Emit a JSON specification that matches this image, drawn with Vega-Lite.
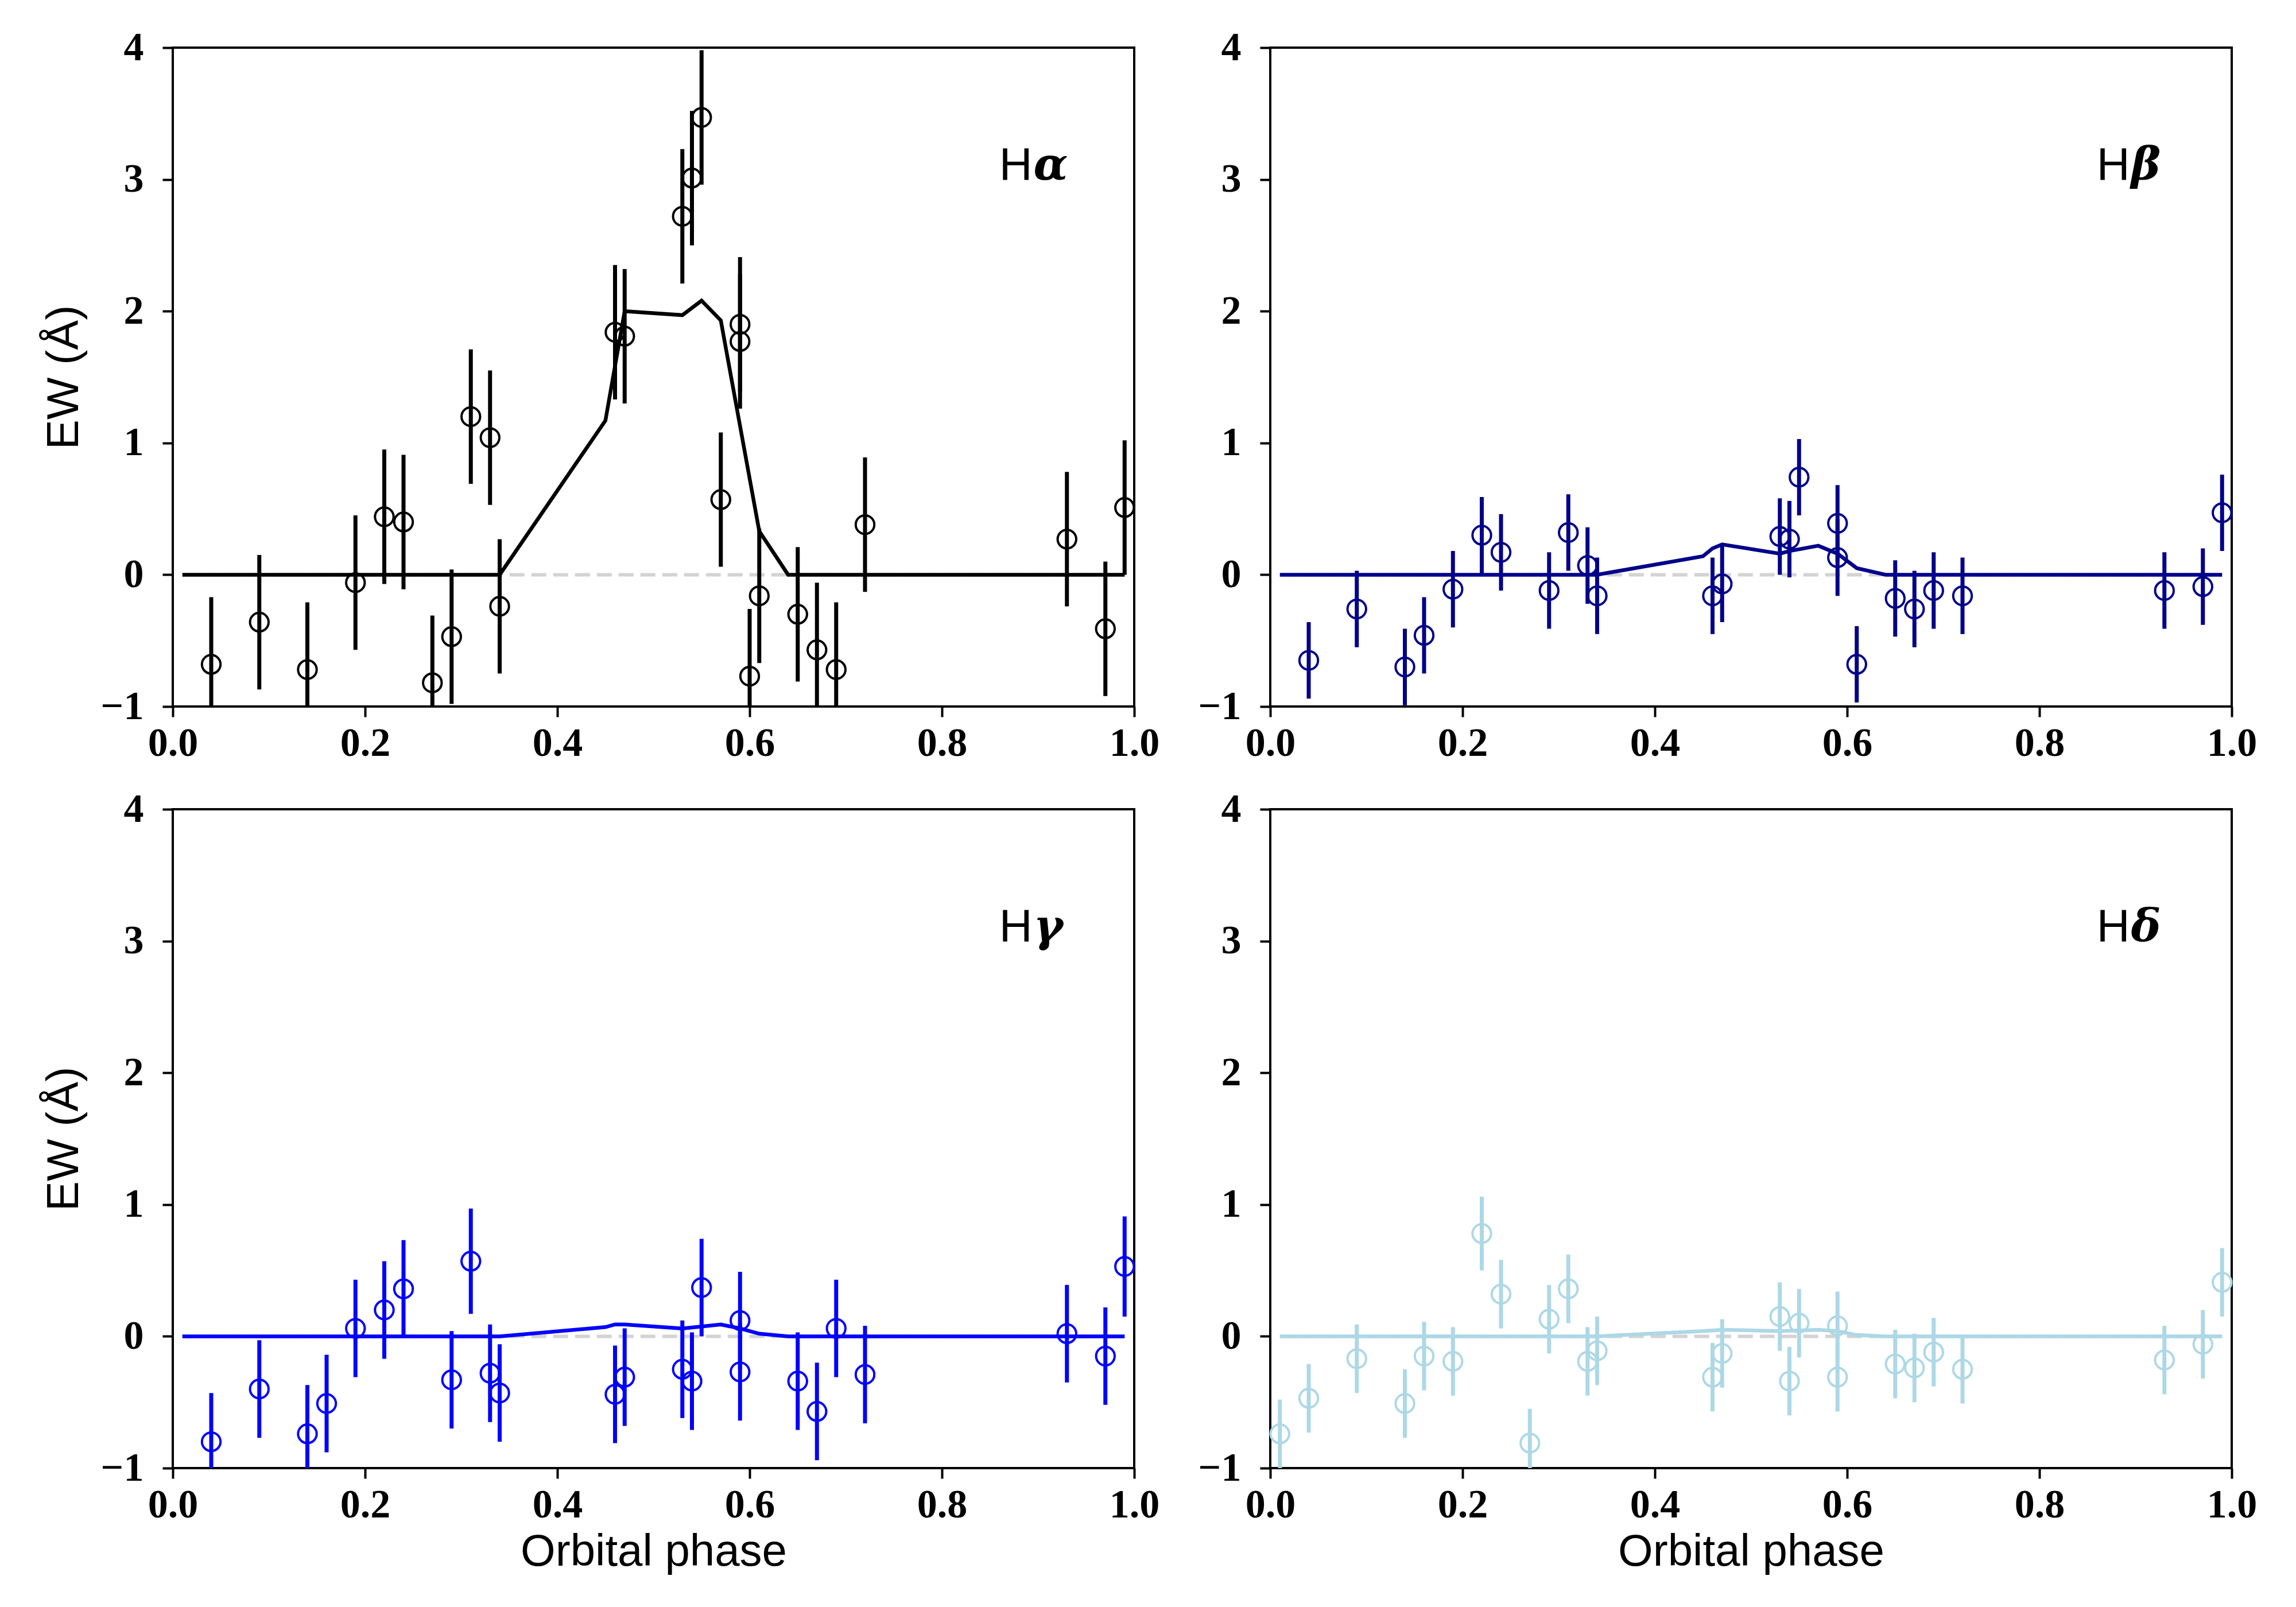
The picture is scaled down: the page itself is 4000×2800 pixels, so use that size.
{
"$schema": "https://vega.github.io/schema/vega-lite/v6.json",
"autosize": {"type": "pad"},
"padding": {"left": 71, "top": 46, "right": 20, "bottom": 20},
"background": "white",
"bounds": "flush",
"columns": 2,
"spacing": {"column": 237, "row": 179},
"datasets": {
"points": [
{"line":"Ha","phase":0.04,"ew":-0.68,"err":0.51},{"line":"Ha","phase":0.09,"ew":-0.36,"err":0.51},{"line":"Ha","phase":0.14,"ew":-0.72,"err":0.51},{"line":"Ha","phase":0.19,"ew":-0.06,"err":0.51},{"line":"Ha","phase":0.22,"ew":0.44,"err":0.51},{"line":"Ha","phase":0.24,"ew":0.40,"err":0.51},{"line":"Ha","phase":0.27,"ew":-0.82,"err":0.51},{"line":"Ha","phase":0.29,"ew":-0.47,"err":0.51},{"line":"Ha","phase":0.31,"ew":1.20,"err":0.51},{"line":"Ha","phase":0.33,"ew":1.04,"err":0.51},{"line":"Ha","phase":0.34,"ew":-0.24,"err":0.51},{"line":"Ha","phase":0.46,"ew":1.84,"err":0.51},{"line":"Ha","phase":0.47,"ew":1.81,"err":0.51},{"line":"Ha","phase":0.53,"ew":2.72,"err":0.51},{"line":"Ha","phase":0.54,"ew":3.01,"err":0.51},{"line":"Ha","phase":0.55,"ew":3.47,"err":0.51},{"line":"Ha","phase":0.57,"ew":0.57,"err":0.51},{"line":"Ha","phase":0.59,"ew":1.90,"err":0.51},{"line":"Ha","phase":0.59,"ew":1.77,"err":0.51},{"line":"Ha","phase":0.60,"ew":-0.77,"err":0.51},{"line":"Ha","phase":0.61,"ew":-0.16,"err":0.51},{"line":"Ha","phase":0.65,"ew":-0.30,"err":0.51},{"line":"Ha","phase":0.67,"ew":-0.57,"err":0.51},{"line":"Ha","phase":0.69,"ew":-0.72,"err":0.51},{"line":"Ha","phase":0.72,"ew":0.38,"err":0.51},{"line":"Ha","phase":0.93,"ew":0.27,"err":0.51},{"line":"Ha","phase":0.97,"ew":-0.41,"err":0.51},{"line":"Ha","phase":0.99,"ew":0.51,"err":0.51},
{"line":"Hb","phase":0.04,"ew":-0.65,"err":0.29},{"line":"Hb","phase":0.09,"ew":-0.26,"err":0.29},{"line":"Hb","phase":0.14,"ew":-0.70,"err":0.29},{"line":"Hb","phase":0.16,"ew":-0.46,"err":0.29},{"line":"Hb","phase":0.19,"ew":-0.11,"err":0.29},{"line":"Hb","phase":0.22,"ew":0.30,"err":0.29},{"line":"Hb","phase":0.24,"ew":0.17,"err":0.29},{"line":"Hb","phase":0.29,"ew":-0.12,"err":0.29},{"line":"Hb","phase":0.31,"ew":0.32,"err":0.29},{"line":"Hb","phase":0.33,"ew":0.07,"err":0.29},{"line":"Hb","phase":0.34,"ew":-0.16,"err":0.29},{"line":"Hb","phase":0.46,"ew":-0.16,"err":0.29},{"line":"Hb","phase":0.47,"ew":-0.07,"err":0.29},{"line":"Hb","phase":0.53,"ew":0.29,"err":0.29},{"line":"Hb","phase":0.54,"ew":0.27,"err":0.29},{"line":"Hb","phase":0.55,"ew":0.74,"err":0.29},{"line":"Hb","phase":0.59,"ew":0.39,"err":0.29},{"line":"Hb","phase":0.59,"ew":0.13,"err":0.29},{"line":"Hb","phase":0.61,"ew":-0.68,"err":0.29},{"line":"Hb","phase":0.65,"ew":-0.18,"err":0.29},{"line":"Hb","phase":0.67,"ew":-0.26,"err":0.29},{"line":"Hb","phase":0.69,"ew":-0.12,"err":0.29},{"line":"Hb","phase":0.72,"ew":-0.16,"err":0.29},{"line":"Hb","phase":0.93,"ew":-0.12,"err":0.29},{"line":"Hb","phase":0.97,"ew":-0.09,"err":0.29},{"line":"Hb","phase":0.99,"ew":0.47,"err":0.29},
{"line":"Hg","phase":0.04,"ew":-0.80,"err":0.37},{"line":"Hg","phase":0.09,"ew":-0.40,"err":0.37},{"line":"Hg","phase":0.14,"ew":-0.74,"err":0.37},{"line":"Hg","phase":0.16,"ew":-0.51,"err":0.37},{"line":"Hg","phase":0.19,"ew":0.06,"err":0.37},{"line":"Hg","phase":0.22,"ew":0.20,"err":0.37},{"line":"Hg","phase":0.24,"ew":0.36,"err":0.37},{"line":"Hg","phase":0.29,"ew":-0.33,"err":0.37},{"line":"Hg","phase":0.31,"ew":0.57,"err":0.40},{"line":"Hg","phase":0.33,"ew":-0.28,"err":0.37},{"line":"Hg","phase":0.34,"ew":-0.43,"err":0.37},{"line":"Hg","phase":0.46,"ew":-0.44,"err":0.37},{"line":"Hg","phase":0.47,"ew":-0.31,"err":0.37},{"line":"Hg","phase":0.53,"ew":-0.25,"err":0.37},{"line":"Hg","phase":0.54,"ew":-0.34,"err":0.37},{"line":"Hg","phase":0.55,"ew":0.37,"err":0.37},{"line":"Hg","phase":0.59,"ew":0.12,"err":0.37},{"line":"Hg","phase":0.59,"ew":-0.27,"err":0.37},{"line":"Hg","phase":0.65,"ew":-0.34,"err":0.37},{"line":"Hg","phase":0.67,"ew":-0.57,"err":0.37},{"line":"Hg","phase":0.69,"ew":0.06,"err":0.37},{"line":"Hg","phase":0.72,"ew":-0.29,"err":0.37},{"line":"Hg","phase":0.93,"ew":0.02,"err":0.37},{"line":"Hg","phase":0.97,"ew":-0.15,"err":0.37},{"line":"Hg","phase":0.99,"ew":0.53,"err":0.38},
{"line":"Hd","phase":0.01,"ew":-0.74,"err":0.26},{"line":"Hd","phase":0.04,"ew":-0.47,"err":0.26},{"line":"Hd","phase":0.09,"ew":-0.17,"err":0.26},{"line":"Hd","phase":0.14,"ew":-0.51,"err":0.26},{"line":"Hd","phase":0.16,"ew":-0.15,"err":0.26},{"line":"Hd","phase":0.19,"ew":-0.19,"err":0.26},{"line":"Hd","phase":0.22,"ew":0.78,"err":0.28},{"line":"Hd","phase":0.24,"ew":0.32,"err":0.26},{"line":"Hd","phase":0.27,"ew":-0.81,"err":0.26},{"line":"Hd","phase":0.29,"ew":0.13,"err":0.26},{"line":"Hd","phase":0.31,"ew":0.36,"err":0.26},{"line":"Hd","phase":0.33,"ew":-0.19,"err":0.26},{"line":"Hd","phase":0.34,"ew":-0.11,"err":0.26},{"line":"Hd","phase":0.46,"ew":-0.31,"err":0.26},{"line":"Hd","phase":0.47,"ew":-0.13,"err":0.26},{"line":"Hd","phase":0.53,"ew":0.15,"err":0.26},{"line":"Hd","phase":0.54,"ew":-0.34,"err":0.26},{"line":"Hd","phase":0.55,"ew":0.10,"err":0.26},{"line":"Hd","phase":0.59,"ew":0.08,"err":0.26},{"line":"Hd","phase":0.59,"ew":-0.31,"err":0.26},{"line":"Hd","phase":0.65,"ew":-0.21,"err":0.26},{"line":"Hd","phase":0.67,"ew":-0.24,"err":0.26},{"line":"Hd","phase":0.69,"ew":-0.12,"err":0.26},{"line":"Hd","phase":0.72,"ew":-0.25,"err":0.26},{"line":"Hd","phase":0.93,"ew":-0.18,"err":0.26},{"line":"Hd","phase":0.97,"ew":-0.06,"err":0.26},{"line":"Hd","phase":0.99,"ew":0.41,"err":0.26}
],
"model": [
{"line":"Ha","phase":0.01,"ew":0},{"line":"Ha","phase":0.34,"ew":0},{"line":"Ha","phase":0.45,"ew":1.17},{"line":"Ha","phase":0.47,"ew":2.0},{"line":"Ha","phase":0.53,"ew":1.97},{"line":"Ha","phase":0.55,"ew":2.08},{"line":"Ha","phase":0.57,"ew":1.93},{"line":"Ha","phase":0.61,"ew":0.33},{"line":"Ha","phase":0.64,"ew":0},{"line":"Ha","phase":0.99,"ew":0},
{"line":"Hb","phase":0.01,"ew":0},{"line":"Hb","phase":0.34,"ew":0},{"line":"Hb","phase":0.45,"ew":0.14},{"line":"Hb","phase":0.46,"ew":0.2},{"line":"Hb","phase":0.47,"ew":0.23},{"line":"Hb","phase":0.53,"ew":0.16},{"line":"Hb","phase":0.54,"ew":0.18},{"line":"Hb","phase":0.57,"ew":0.22},{"line":"Hb","phase":0.59,"ew":0.16},{"line":"Hb","phase":0.61,"ew":0.05},{"line":"Hb","phase":0.64,"ew":0},{"line":"Hb","phase":0.99,"ew":0},
{"line":"Hg","phase":0.01,"ew":0},{"line":"Hg","phase":0.34,"ew":0},{"line":"Hg","phase":0.45,"ew":0.07},{"line":"Hg","phase":0.46,"ew":0.09},{"line":"Hg","phase":0.47,"ew":0.09},{"line":"Hg","phase":0.53,"ew":0.06},{"line":"Hg","phase":0.57,"ew":0.09},{"line":"Hg","phase":0.59,"ew":0.06},{"line":"Hg","phase":0.61,"ew":0.02},{"line":"Hg","phase":0.64,"ew":0},{"line":"Hg","phase":0.99,"ew":0},
{"line":"Hd","phase":0.01,"ew":0},{"line":"Hd","phase":0.34,"ew":0},{"line":"Hd","phase":0.45,"ew":0.04},{"line":"Hd","phase":0.47,"ew":0.05},{"line":"Hd","phase":0.53,"ew":0.04},{"line":"Hd","phase":0.57,"ew":0.05},{"line":"Hd","phase":0.59,"ew":0.04},{"line":"Hd","phase":0.61,"ew":0.01},{"line":"Hd","phase":0.64,"ew":0},{"line":"Hd","phase":0.99,"ew":0}
]
},
"concat": [
{"width":1675,"height":1148,"layer":[
 {"data":{"values":[{}]},"mark":{"type":"rule","color":"#d3d3d3","strokeDash":[26,12],"strokeWidth":6},
  "encoding":{"x":{"datum":0.01,"type":"quantitative","scale":{"domain":[0,1],"nice":false,"zero":false},"axis":{"title":null,"values":[0,0.2,0.4,0.6,0.8,1.0],"format":".1f"}},"x2":{"datum":0.99},
   "y":{"datum":0,"type":"quantitative","scale":{"domain":[-1,4],"nice":false,"zero":false},"axis":{"title":"EW (Å)","values":[-1,0,1,2,3,4],"format":"d"}}}},
 {"data":{"name":"points"},"transform":[{"filter":"datum.line === 'Ha'"}],"mark":{"type":"errorbar","color":"black","thickness":7,"rule":{"strokeWidth":7},"clip":true},
  "encoding":{"x":{"field":"phase","type":"quantitative","title":null},"y":{"field":"ew","type":"quantitative","title":"EW (Å)"},"yError":{"field":"err"}}},
 {"data":{"name":"points"},"transform":[{"filter":"datum.line === 'Ha'"}],"mark":{"type":"point","shape":"circle","filled":false,"size":1050,"strokeWidth":4,"color":"black","opacity":1},
  "encoding":{"x":{"field":"phase","type":"quantitative","title":null},"y":{"field":"ew","type":"quantitative","title":"EW (Å)"}}},
 {"data":{"name":"model"},"transform":[{"filter":"datum.line === 'Ha'"}],"mark":{"type":"line","color":"black","strokeWidth":6.5},
  "encoding":{"x":{"field":"phase","type":"quantitative","title":null},"y":{"field":"ew","type":"quantitative","title":"EW (Å)"}}},
 {"data":{"values":[{}]},"mark":{"type":"text","font":"Liberation Sans","fontSize":80,"align":"right","baseline":"alphabetic","color":"black"},
  "encoding":{"x":{"datum":0.894,"type":"quantitative"},"y":{"datum":3.0,"type":"quantitative"},"text":{"value":"H"}}},
 {"data":{"values":[{}]},"mark":{"type":"text","font":"DejaVu Serif","fontSize":78,"fontStyle":"italic","fontWeight":"bold","align":"left","baseline":"alphabetic","color":"black","dx":2},
  "encoding":{"x":{"datum":0.894,"type":"quantitative"},"y":{"datum":3.0,"type":"quantitative"},"text":{"value":"α"}}}
]},
{"width":1675,"height":1148,"layer":[
 {"data":{"values":[{}]},"mark":{"type":"rule","color":"#d3d3d3","strokeDash":[26,12],"strokeWidth":6},
  "encoding":{"x":{"datum":0.01,"type":"quantitative","scale":{"domain":[0,1],"nice":false,"zero":false},"axis":{"title":null,"values":[0,0.2,0.4,0.6,0.8,1.0],"format":".1f"}},"x2":{"datum":0.99},
   "y":{"datum":0,"type":"quantitative","scale":{"domain":[-1,4],"nice":false,"zero":false},"axis":{"title":null,"values":[-1,0,1,2,3,4],"format":"d"}}}},
 {"data":{"name":"points"},"transform":[{"filter":"datum.line === 'Hb'"}],"mark":{"type":"errorbar","color":"#00008b","thickness":7,"rule":{"strokeWidth":7},"clip":true},
  "encoding":{"x":{"field":"phase","type":"quantitative","title":null},"y":{"field":"ew","type":"quantitative","title":null},"yError":{"field":"err"}}},
 {"data":{"name":"points"},"transform":[{"filter":"datum.line === 'Hb'"}],"mark":{"type":"point","shape":"circle","filled":false,"size":1050,"strokeWidth":4,"color":"#00008b","opacity":1},
  "encoding":{"x":{"field":"phase","type":"quantitative","title":null},"y":{"field":"ew","type":"quantitative","title":null}}},
 {"data":{"name":"model"},"transform":[{"filter":"datum.line === 'Hb'"}],"mark":{"type":"line","color":"#00008b","strokeWidth":6.5},
  "encoding":{"x":{"field":"phase","type":"quantitative","title":null},"y":{"field":"ew","type":"quantitative","title":null}}},
 {"data":{"values":[{}]},"mark":{"type":"text","font":"Liberation Sans","fontSize":80,"align":"right","baseline":"alphabetic","color":"black"},
  "encoding":{"x":{"datum":0.894,"type":"quantitative"},"y":{"datum":3.0,"type":"quantitative"},"text":{"value":"H"}}},
 {"data":{"values":[{}]},"mark":{"type":"text","font":"DejaVu Serif","fontSize":78,"fontStyle":"italic","fontWeight":"bold","align":"left","baseline":"alphabetic","color":"black","dx":2},
  "encoding":{"x":{"datum":0.894,"type":"quantitative"},"y":{"datum":3.0,"type":"quantitative"},"text":{"value":"β"}}}
]},
{"width":1675,"height":1148,"layer":[
 {"data":{"values":[{}]},"mark":{"type":"rule","color":"#d3d3d3","strokeDash":[26,12],"strokeWidth":6},
  "encoding":{"x":{"datum":0.01,"type":"quantitative","scale":{"domain":[0,1],"nice":false,"zero":false},"axis":{"title":"Orbital phase","values":[0,0.2,0.4,0.6,0.8,1.0],"format":".1f"}},"x2":{"datum":0.99},
   "y":{"datum":0,"type":"quantitative","scale":{"domain":[-1,4],"nice":false,"zero":false},"axis":{"title":"EW (Å)","values":[-1,0,1,2,3,4],"format":"d"}}}},
 {"data":{"name":"points"},"transform":[{"filter":"datum.line === 'Hg'"}],"mark":{"type":"errorbar","color":"#0000ff","thickness":7,"rule":{"strokeWidth":7},"clip":true},
  "encoding":{"x":{"field":"phase","type":"quantitative","title":"Orbital phase"},"y":{"field":"ew","type":"quantitative","title":"EW (Å)"},"yError":{"field":"err"}}},
 {"data":{"name":"points"},"transform":[{"filter":"datum.line === 'Hg'"}],"mark":{"type":"point","shape":"circle","filled":false,"size":1050,"strokeWidth":4,"color":"#0000ff","opacity":1},
  "encoding":{"x":{"field":"phase","type":"quantitative","title":"Orbital phase"},"y":{"field":"ew","type":"quantitative","title":"EW (Å)"}}},
 {"data":{"name":"model"},"transform":[{"filter":"datum.line === 'Hg'"}],"mark":{"type":"line","color":"#0000ff","strokeWidth":6.5},
  "encoding":{"x":{"field":"phase","type":"quantitative","title":"Orbital phase"},"y":{"field":"ew","type":"quantitative","title":"EW (Å)"}}},
 {"data":{"values":[{}]},"mark":{"type":"text","font":"Liberation Sans","fontSize":80,"align":"right","baseline":"alphabetic","color":"black"},
  "encoding":{"x":{"datum":0.894,"type":"quantitative"},"y":{"datum":3.0,"type":"quantitative"},"text":{"value":"H"}}},
 {"data":{"values":[{}]},"mark":{"type":"text","font":"DejaVu Serif","fontSize":78,"fontStyle":"italic","fontWeight":"bold","align":"left","baseline":"alphabetic","color":"black","dx":2},
  "encoding":{"x":{"datum":0.894,"type":"quantitative"},"y":{"datum":3.0,"type":"quantitative"},"text":{"value":"γ"}}}
]},
{"width":1675,"height":1148,"layer":[
 {"data":{"values":[{}]},"mark":{"type":"rule","color":"#d3d3d3","strokeDash":[26,12],"strokeWidth":6},
  "encoding":{"x":{"datum":0.01,"type":"quantitative","scale":{"domain":[0,1],"nice":false,"zero":false},"axis":{"title":"Orbital phase","values":[0,0.2,0.4,0.6,0.8,1.0],"format":".1f"}},"x2":{"datum":0.99},
   "y":{"datum":0,"type":"quantitative","scale":{"domain":[-1,4],"nice":false,"zero":false},"axis":{"title":null,"values":[-1,0,1,2,3,4],"format":"d"}}}},
 {"data":{"name":"points"},"transform":[{"filter":"datum.line === 'Hd'"}],"mark":{"type":"errorbar","color":"#add8e6","thickness":7,"rule":{"strokeWidth":7},"clip":true},
  "encoding":{"x":{"field":"phase","type":"quantitative","title":"Orbital phase"},"y":{"field":"ew","type":"quantitative","title":null},"yError":{"field":"err"}}},
 {"data":{"name":"points"},"transform":[{"filter":"datum.line === 'Hd'"}],"mark":{"type":"point","shape":"circle","filled":false,"size":1050,"strokeWidth":4,"color":"#add8e6","opacity":1},
  "encoding":{"x":{"field":"phase","type":"quantitative","title":"Orbital phase"},"y":{"field":"ew","type":"quantitative","title":null}}},
 {"data":{"name":"model"},"transform":[{"filter":"datum.line === 'Hd'"}],"mark":{"type":"line","color":"#add8e6","strokeWidth":6.5},
  "encoding":{"x":{"field":"phase","type":"quantitative","title":"Orbital phase"},"y":{"field":"ew","type":"quantitative","title":null}}},
 {"data":{"values":[{}]},"mark":{"type":"text","font":"Liberation Sans","fontSize":80,"align":"right","baseline":"alphabetic","color":"black"},
  "encoding":{"x":{"datum":0.894,"type":"quantitative"},"y":{"datum":3.0,"type":"quantitative"},"text":{"value":"H"}}},
 {"data":{"values":[{}]},"mark":{"type":"text","font":"DejaVu Serif","fontSize":78,"fontStyle":"italic","fontWeight":"bold","align":"left","baseline":"alphabetic","color":"black","dx":2},
  "encoding":{"x":{"datum":0.894,"type":"quantitative"},"y":{"datum":3.0,"type":"quantitative"},"text":{"value":"δ"}}}
]}
],
"config": {
 "view": {"stroke": "black", "strokeWidth": 4},
 "axis": {"domain": false, "grid": false, "ticks": true, "tickSize": 18, "tickWidth": 4, "tickColor": "black",
  "labelFont": "Liberation Serif", "labelFontSize": 70, "labelFontWeight": "bold", "labelColor": "black", "labelFlush": false, "labelOverlap": false,
  "titleFont": "Liberation Sans", "titleFontSize": 78, "titleFontWeight": "normal", "titleColor": "black"},
 "axisX": {"labelPadding": 12, "titlePadding": 8},
 "axisY": {"labelPadding": 33, "titlePadding": 24}
}
}
